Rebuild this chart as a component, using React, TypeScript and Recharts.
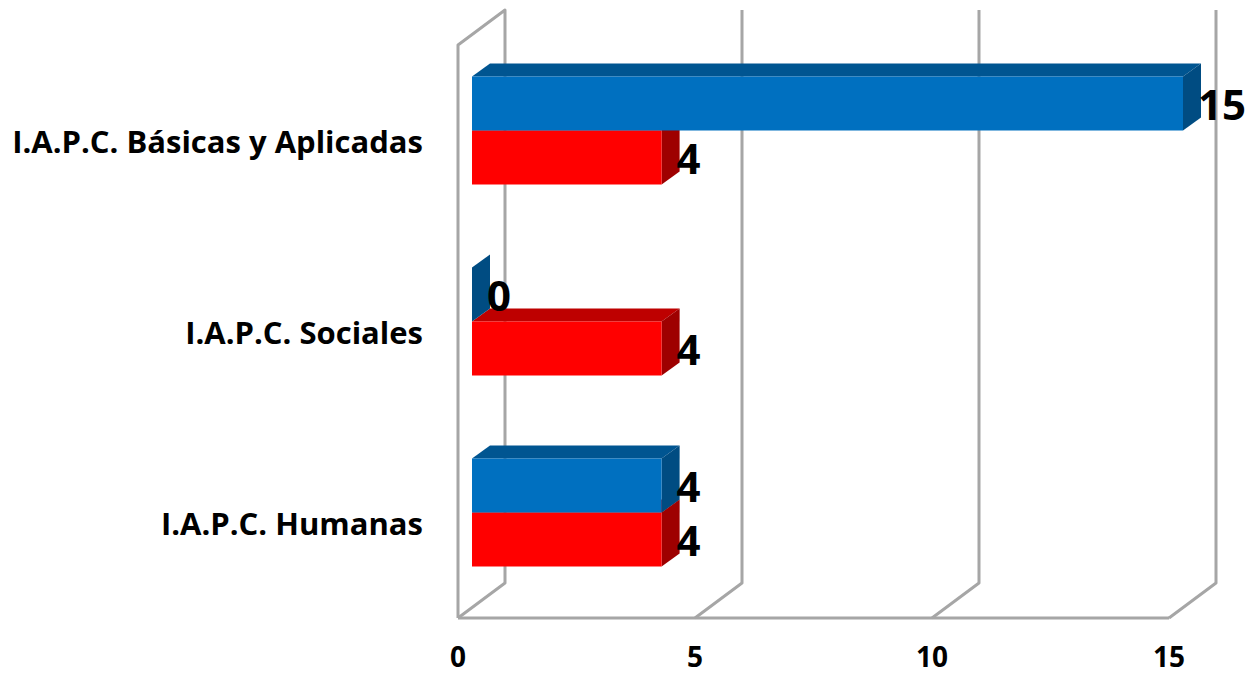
import { BarChart, Bar, XAxis, YAxis, CartesianGrid, LabelList } from "recharts";

const categories = ["I.A.P.C. Básicas y Aplicadas", "I.A.P.C. Sociales", "I.A.P.C. Humanas"];
const blueValues = [15, 0, 4];
const redValues = [4, 4, 4];
const xTicks = [0, 5, 10, 15];

const data = categories.map((name, i) => ({ name, blue: blueValues[i], red: redValues[i] }));

const FONT = "'Open Sans', sans-serif";
const GRID = "#A6A6A6";

// fake 3D: wall depth, where bars sit inside it, and the depth of a bar
const WALL_DX = 47;
const WALL_DY = 35;
const BAR_DX = 14;
const BAR_DY = 10;
const SIDE_DX = 18;
const SIDE_DY = 13;

function Box3D({ x, y, width, height, slot, front, top, side }: any) {
  const l = x + BAR_DX;
  const r = l + width;
  const t = y - BAR_DY + slot * height;
  const b = t + height;
  return (
    <g>
      <polygon
        points={`${l},${t} ${l + SIDE_DX},${t - SIDE_DY} ${r + SIDE_DX},${t - SIDE_DY} ${r},${t}`}
        fill={top}
      />
      <polygon
        points={`${r},${t} ${r + SIDE_DX},${t - SIDE_DY} ${r + SIDE_DX},${b - SIDE_DY} ${r},${b}`}
        fill={side}
      />
      <rect x={l} y={t} width={width} height={height} fill={front} />
    </g>
  );
}

function WallLine(props: any) {
  const { x1, y1, y2, index } = props;
  const top = Math.min(y1, y2);
  const bottom = Math.max(y1, y2);
  let d = `M${x1},${bottom} L${x1 + WALL_DX},${bottom - WALL_DY} L${x1 + WALL_DX},${top - WALL_DY}`;
  if (index === 0) {
    d += ` L${x1},${top} L${x1},${bottom}`;
  }
  return <path d={d} fill="none" stroke={GRID} strokeWidth={3} strokeLinejoin="round" />;
}

function valueLabel(slot: number) {
  return (props: any) => {
    const { x, y, width, height, value } = props;
    return (
      <text
        x={x + width + 29}
        y={y - BAR_DY + slot * height + height / 2}
        dominantBaseline="central"
        fontFamily={FONT}
        fontWeight={700}
        fontSize={42}
        fill="#000"
      >
        {value}
      </text>
    );
  };
}

export default function App() {
  return (
    <div style={{ position: "absolute", left: 0, top: 0, width: 1253, height: 675 }}>
      <BarChart
        width={1253}
        height={675}
        data={data}
        layout="vertical"
        margin={{ top: 45, right: 84, bottom: 0, left: 0 }}
        barCategoryGap={41.5}
        barGap={0}
      >
        <CartesianGrid horizontal={false} vertical={(p: any) => <WallLine key={p.index} {...p} />} />
        <XAxis
          type="number"
          domain={[0, 15]}
          ticks={xTicks}
          interval={0}
          height={57}
          axisLine={{ stroke: GRID, strokeWidth: 3 }}
          tickLine={false}
          tickSize={0}
          tickMargin={29}
          tick={{ fontFamily: FONT, fontWeight: 700, fontSize: 28, fill: "#000" }}
        />
        <YAxis
          type="category"
          dataKey="name"
          width={458}
          axisLine={false}
          tickLine={false}
          tickSize={0}
          tickMargin={35}
          interval={0}
          dy={1}
          tick={{ fontFamily: FONT, fontWeight: 700, fontSize: 31, fill: "#000" }}
        />
        {/* red goes first so the blue box paints over its top face, slots are swapped in the shape */}
        <Bar
          dataKey="red"
          isAnimationActive={false}
          shape={(p: any) => <Box3D {...p} slot={1} front="#FF0000" top="#BE0000" side="#9E0000" />}
        >
          <LabelList dataKey="red" content={valueLabel(1)} />
        </Bar>
        <Bar
          dataKey="blue"
          isAnimationActive={false}
          shape={(p: any) => <Box3D {...p} slot={-1} front="#0070C0" top="#005591" side="#004C82" />}
        >
          <LabelList dataKey="blue" content={valueLabel(-1)} />
        </Bar>
      </BarChart>
    </div>
  );
}
